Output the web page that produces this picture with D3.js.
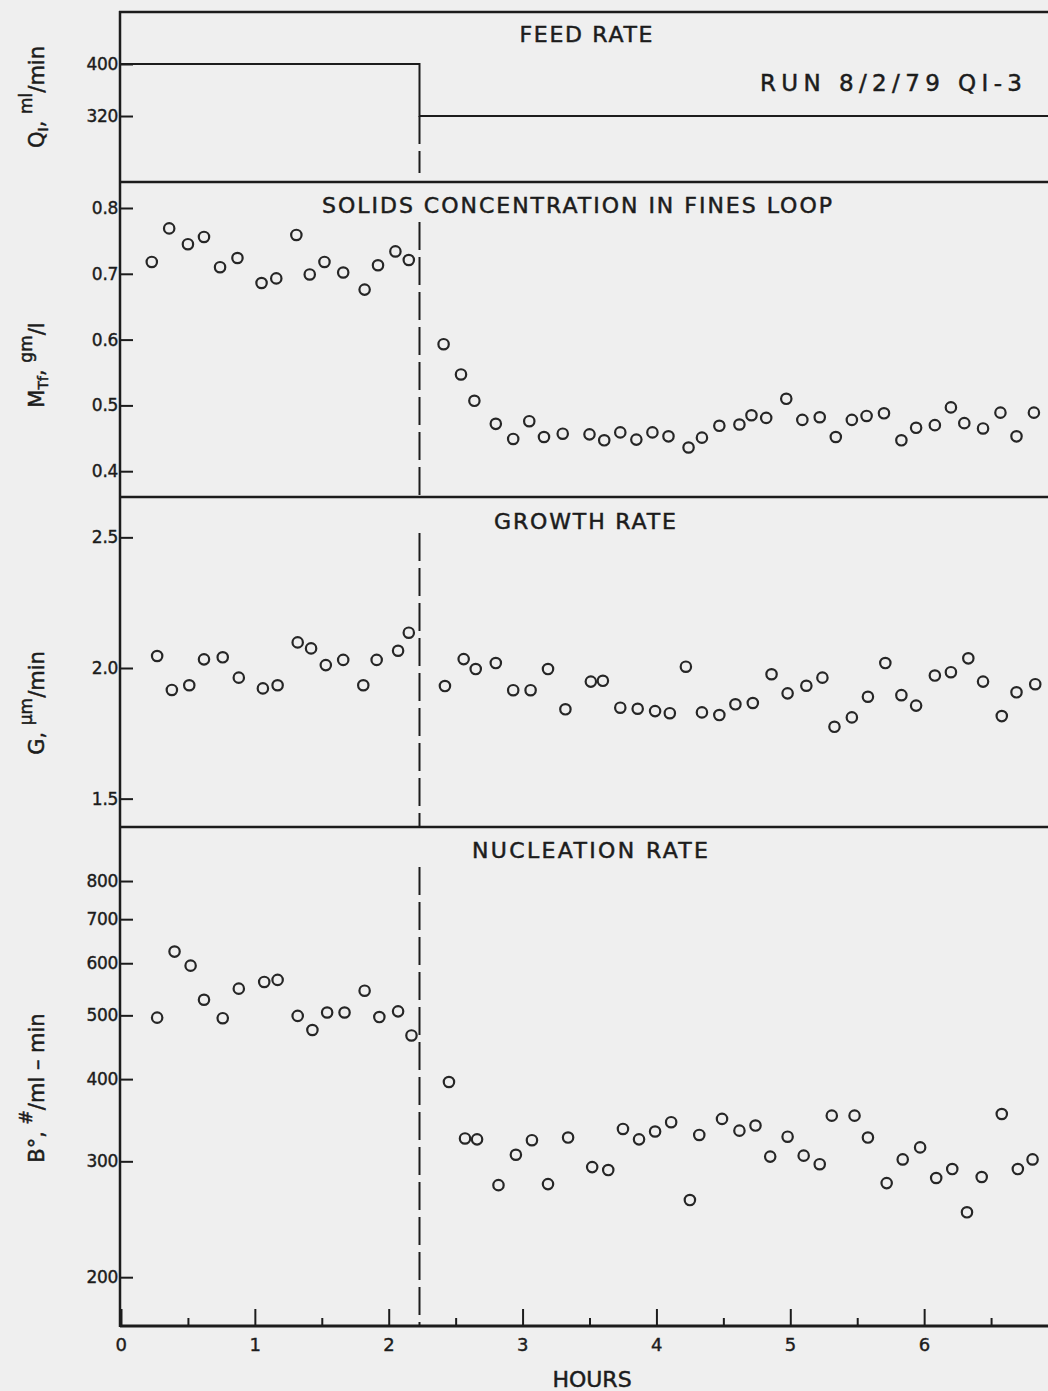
<!DOCTYPE html>
<html>
<head>
<meta charset="utf-8">
<script src="https://cdn.jsdelivr.net/npm/d3@7"></script>
<style>
  body { margin: 0; background: #efefef; }
  svg { display: block; }
  .frame { stroke: #1c1c1c; stroke-width: 2.5; fill: none; }
  .txt { font-family: "DejaVu Sans", sans-serif; fill: #1c1c1c; stroke: #1c1c1c; stroke-width: 0.5; }
  .tick text { font-family: "DejaVu Sans", sans-serif; fill: #1c1c1c; stroke: #1c1c1c; stroke-width: 0.4; letter-spacing: 0.5px; }
  .tick line { stroke: #1c1c1c; stroke-width: 2; }
  .pt { fill: none; stroke: #262626; stroke-width: 2.2; }
</style>
</head>
<body>
<div id="chart"></div>
<script>

// ---- data (hours from start of run) ----
var changeHour = 2.23;

var feedHours = [0, changeHour, 7],
    feedRate  = [400, 320, 320];

var solidsHours = [0.23,0.36,0.50,0.62,0.74,0.87,1.05,1.16,1.31,1.41,1.52,1.66,1.82,1.92,2.05,2.15,
                   2.41,2.54,2.64,2.80,2.93,3.05,3.16,3.30,3.50,3.61,3.73,3.85,3.97,4.09,4.24,4.34,4.47,4.62,
                   4.71,4.82,4.97,5.09,5.22,5.34,5.46,5.57,5.70,5.83,5.94,6.08,6.20,6.30,6.44,6.57,6.69,6.82];
var solids = [0.718,0.769,0.745,0.756,0.710,0.724,0.686,0.693,0.759,0.699,0.718,0.702,0.676,0.713,0.734,0.721,
              0.593,0.547,0.507,0.472,0.449,0.476,0.452,0.457,0.456,0.447,0.459,0.448,0.459,0.453,0.436,0.451,0.469,0.471,
              0.485,0.481,0.510,0.478,0.482,0.452,0.478,0.484,0.488,0.447,0.466,0.470,0.497,0.473,0.465,0.489,0.453,0.489];

var growthHours = [0.27,0.38,0.51,0.62,0.76,0.88,1.06,1.17,1.32,1.42,1.53,1.66,1.81,1.91,2.07,2.15,
                   2.42,2.56,2.65,2.80,2.93,3.06,3.19,3.32,3.51,3.60,3.73,3.86,3.99,4.10,4.22,4.34,4.47,4.59,
                   4.72,4.86,4.98,5.12,5.24,5.33,5.46,5.58,5.71,5.83,5.94,6.08,6.20,6.33,6.44,6.58,6.69,6.83];
var growth = [2.046,1.916,1.934,2.033,2.041,1.963,1.922,1.934,2.098,2.075,2.011,2.031,1.934,2.031,2.066,2.135,
              1.931,2.034,1.996,2.019,1.915,1.915,1.996,1.842,1.948,1.951,1.848,1.844,1.835,1.827,2.005,1.830,1.820,1.861,
              1.866,1.976,1.903,1.932,1.963,1.775,1.811,1.890,2.019,1.896,1.856,1.971,1.984,2.037,1.948,1.816,1.907,1.938];

var nucHours = [0.27,0.40,0.52,0.62,0.76,0.88,1.07,1.17,1.32,1.43,1.54,1.67,1.82,1.93,2.07,2.17,
                2.45,2.57,2.66,2.82,2.95,3.07,3.19,3.34,3.52,3.64,3.75,3.87,3.99,4.11,4.25,4.32,4.49,4.62,
                4.74,4.85,4.98,5.10,5.22,5.31,5.48,5.58,5.72,5.84,5.97,6.09,6.21,6.32,6.43,6.58,6.70,6.81];
var nucleation = [496,625,595,528,495,549,562,566,499,475,505,505,545,497,507,466,
                  396,325,324,276,307,323,277,326,294,291,336,324,333,344,262,329,348,334,
                  340,305,327,306,297,352,352,326,278,302,315,283,292,251,284,354,292,302];

var hourTicks = [0,1,2,3,4,5,6],
    halfTicks = [0.5,1.5,2.5,3.5,4.5,5.5,6.5];

// ---- layout ----
var width = 1048, height = 1391,
    left = 120, axisY = 1326;

var svg = d3.select("#chart").append("svg").attr("width", width).attr("height", height);
svg.append("rect").attr("width", width).attr("height", height).attr("fill", "#efefef");

var x = d3.scaleLinear().domain([0, 7]).range([121, 1058]);

var panels = [
  { title: "FEED RATE", tx: 586, ty: 42, tlen: 133, top: 12, bottom: 182,
    y: d3.scaleLinear().domain([218.5, 480]).range([182, 12]),
    ticks: [320, 400], fmt: d3.format("d"), dashTop: null, dashBottom: 173, labelY: 97 },
  { title: "SOLIDS  CONCENTRATION  IN  FINES  LOOP", tx: 577, ty: 213, tlen: 510, top: 182, bottom: 497,
    y: d3.scaleLinear().domain([0.3608, 0.8395]).range([497, 182]),
    ticks: [0.4, 0.5, 0.6, 0.7, 0.8], fmt: d3.format(".1f"), dashTop: 222, dashBottom: 497, labelY: 365,
    xs: solidsHours, vs: solids },
  { title: "GROWTH  RATE", tx: 585, ty: 529, tlen: 182, top: 497, bottom: 827,
    y: d3.scaleLinear().domain([1.3915, 2.6544]).range([827, 497]),
    ticks: [1.5, 2.0, 2.5], fmt: d3.format(".1f"), dashTop: 533, dashBottom: 826, labelY: 703,
    xs: growthHours, vs: growth },
  { title: "NUCLEATION  RATE", tx: 590, ty: 858, tlen: 236, top: 827, bottom: axisY,
    y: d3.scaleLog().domain([168.6, 966.5]).range([axisY, 827]),
    ticks: [200, 300, 400, 500, 600, 700, 800], fmt: d3.format("d"), dashTop: 867, dashBottom: axisY, labelY: 1088,
    xs: nucHours, vs: nucleation }
];

// frame lines
panels.forEach(function(p) {
  svg.append("line").attr("class", "frame")
     .attr("x1", left - 1).attr("x2", width).attr("y1", p.top).attr("y2", p.top);
});
svg.append("line").attr("class", "frame").style("stroke-width", 3)
   .attr("x1", left).attr("x2", width).attr("y1", axisY).attr("y2", axisY);
svg.append("line").attr("class", "frame")
   .attr("x1", left).attr("x2", left).attr("y1", 11).attr("y2", axisY + 1);

// y axes: ticks point inward, labels sit left of the axis
panels.forEach(function(p) {
  var ax = d3.axisLeft(p.y).tickValues(p.ticks).tickFormat(p.fmt).tickSize(-13).tickPadding(2);
  var g = svg.append("g").attr("transform", "translate(" + left + ",0)").call(ax);
  g.select(".domain").remove();
  g.selectAll("text").style("font-size", "17px").style("letter-spacing", "-0.3px");

  svg.append("text").attr("class", "txt")
     .attr("x", p.tx).attr("y", p.ty)
     .attr("text-anchor", "middle")
     .attr("textLength", p.tlen).attr("lengthAdjust", "spacing")
     .style("font-size", "22px")
     .text(p.title);

  // dashed line marking the feed change
  var dTop = p.dashTop === null ? panels[0].y(320) : p.dashTop;
  svg.append("line")
     .attr("x1", x(changeHour)).attr("x2", x(changeHour))
     .attr("y1", dTop).attr("y2", p.dashBottom)
     .attr("stroke", "#1c1c1c").attr("stroke-width", 2)
     .attr("stroke-dasharray", "28,7");

  if (p.xs) {
    svg.append("g").selectAll("circle")
       .data(p.xs.map(function(h, i) { return [h, p.vs[i]]; }))
       .enter().append("circle")
       .attr("class", "pt")
       .attr("cx", function(d) { return x(d[0]); })
       .attr("cy", function(d) { return p.y(d[1]); })
       .attr("r", 5.2);
  }
});

// feed rate step line
var feedLine = d3.line()
  .x(function(d) { return x(d[0]); })
  .y(function(d) { return panels[0].y(d[1]); })
  .curve(d3.curveStepAfter);

svg.append("path")
   .datum(feedHours.map(function(h, i) { return [h, feedRate[i]]; }))
   .attr("d", feedLine)
   .attr("fill", "none").attr("stroke", "#1c1c1c").attr("stroke-width", 2);

svg.append("text").attr("class", "txt")
   .attr("x", 760).attr("y", 91)
   .attr("textLength", 262).attr("lengthAdjust", "spacing")
   .style("font-size", "23px")
   .text("RUN  8/2/79  QⅠ-3");

// x axis, major and half hour ticks
var xMajor = d3.axisBottom(x).tickValues(hourTicks).tickFormat(d3.format("d")).tickSize(-17).tickPadding(12);
var gx = svg.append("g").attr("transform", "translate(0," + axisY + ")").call(xMajor);
gx.select(".domain").remove();
gx.selectAll("text").style("font-size", "18px");

var xMinor = d3.axisBottom(x).tickValues(halfTicks).tickFormat("").tickSize(-8);
var gm = svg.append("g").attr("transform", "translate(0," + axisY + ")").call(xMinor);
gm.select(".domain").remove();

svg.append("text").attr("class", "txt")
   .attr("x", 592).attr("y", 1387)
   .attr("text-anchor", "middle")
   .style("font-size", "22px")
   .text("HOURS");

// rotated y labels with sub/superscripts
function yLabel(cy, parts) {
  var t = svg.append("text").attr("class", "txt")
             .attr("transform", "translate(44," + cy + ") rotate(-90)")
             .attr("text-anchor", "middle")
             .style("font-size", "21px");
  parts.forEach(function(s) {
    var ts = t.append("tspan").text(s[0]);
    if (s[1] === "sub") ts.attr("dy", 4).style("font-size", "14px");
    if (s[1] === "sup") ts.attr("dy", -12).style("font-size", "17px");
    if (s[1] === "back") ts.attr("dy", s[2]);
  });
}

yLabel(panels[0].labelY, [["Q"], ["Ⅰ", "sub"], [", ", "back", -4], ["ml", "sup"], ["/min", "back", 12]]);
yLabel(panels[1].labelY, [["M"], ["Tf", "sub"], [", ", "back", -4], ["gm", "sup"], ["/l", "back", 12]]);
yLabel(panels[2].labelY, [["G, "], ["µm", "sup"], ["/min", "back", 12]]);
yLabel(panels[3].labelY, [["B°, "], ["#", "sup"], ["/ml – min", "back", 12]]);

</script>
</body>
</html>
